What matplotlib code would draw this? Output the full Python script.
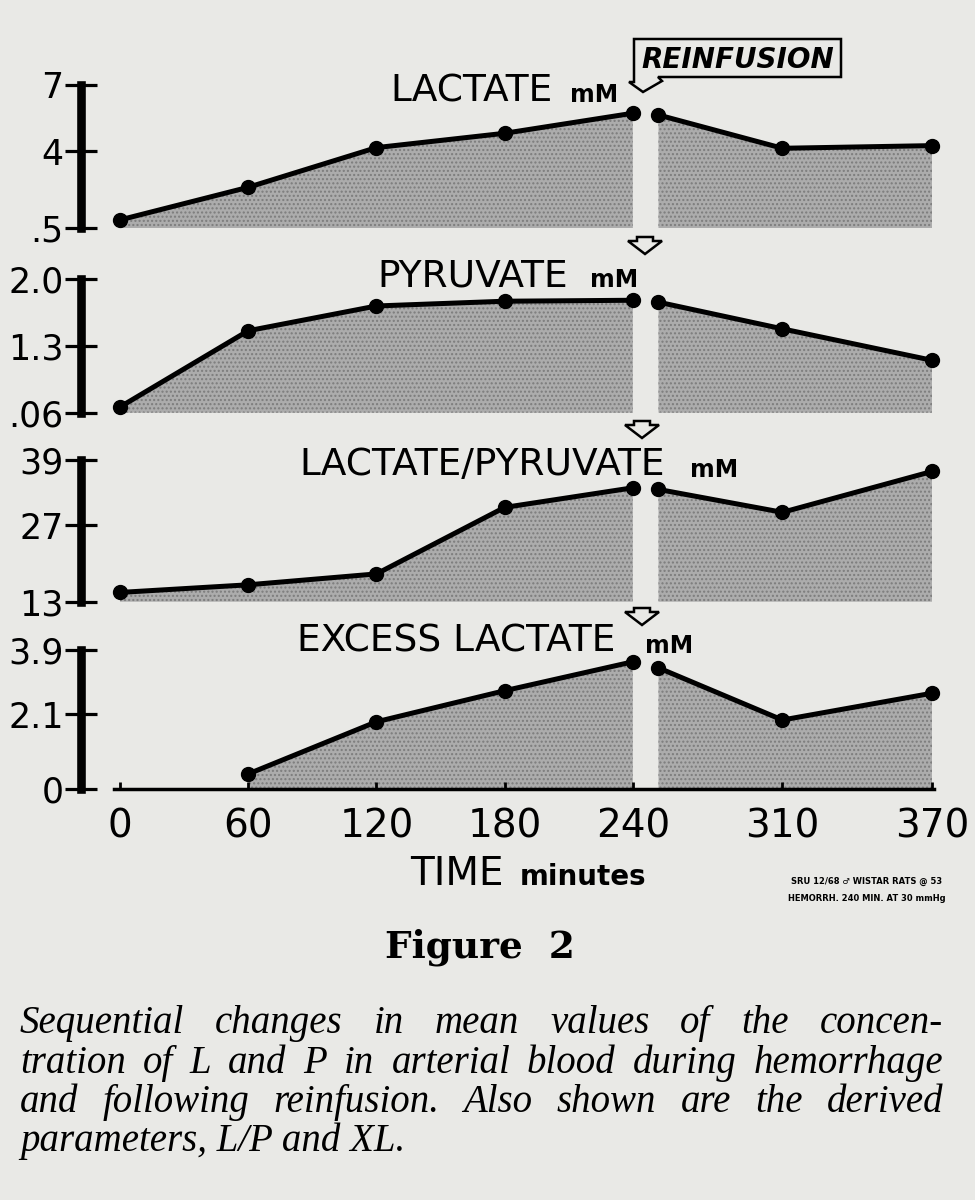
import matplotlib.pyplot as plt
from matplotlib.patches import Polygon

# time axis as drawn (the last interval of the original drawing is stretched,
# so the "370" mark sits where 380 would be on a linear scale)
tick_pos = [0, 60, 120, 180, 240, 310, 380]
tick_labels = ['0', '60', '120', '180', '240', '310', '370']

t_pre = [0, 60, 120, 180, 240]
t_post = [252, 310, 380]
t_xl_pre = [60, 120, 180, 240]

lactate_pre = [0.88, 2.36, 4.16, 4.81, 5.72]
lactate_post = [5.64, 4.13, 4.25]
pyruvate_pre = [0.66, 1.46, 1.72, 1.77, 1.78]
pyruvate_post = [1.76, 1.48, 1.15]
lp_pre = [14.7, 16.1, 18.1, 30.3, 33.9]
lp_post = [33.6, 29.4, 36.9]
xl_pre = [0.43, 1.89, 2.76, 3.57]
xl_post = [3.40, 1.94, 2.69]

lactate_ticks = [0.5, 4, 7]
lactate_ticklabels = ['.5', '4', '7']
pyruvate_ticks = [0.6, 1.3, 2.0]
pyruvate_ticklabels = ['.06', '1.3', '2.0']
lp_ticks = [13, 27, 39]
lp_ticklabels = ['13', '27', '39']
xl_ticks = [0, 2.1, 3.9]
xl_ticklabels = ['0', '2.1', '3.9']

W, H = 975, 1200
BG = '#e9e9e6'
FILL = '#acacac'

fig = plt.figure(figsize=(W / 100, H / 100), dpi=100)
fig.patch.set_facecolor(BG)


def fx(x):
    return x / W


def fy(y):
    return 1 - y / H


# pixel layout of the drawing
x_left, x_right = 81, 960
x0_px, scale = 120, (932 - 120) / 380
xlim = (-(x0_px - x_left) / scale, (x_right - x0_px) / scale)

panels = [
    dict(top=85, bot=228.3, pre=lactate_pre, post=lactate_post, tpre=t_pre,
         ticks=lactate_ticks, labels=lactate_ticklabels),
    dict(top=279.3, bot=412.7, pre=pyruvate_pre, post=pyruvate_post, tpre=t_pre,
         ticks=pyruvate_ticks, labels=pyruvate_ticklabels),
    dict(top=460, bot=601.7, pre=lp_pre, post=lp_post, tpre=t_pre,
         ticks=lp_ticks, labels=lp_ticklabels),
    dict(top=650, bot=789.3, pre=xl_pre, post=xl_post, tpre=t_xl_pre,
         ticks=xl_ticks, labels=xl_ticklabels),
]

axes = []
for p in panels:
    ax = fig.add_axes([fx(x_left), fy(p['bot']), (x_right - x_left) / W,
                       (p['bot'] - p['top']) / H])
    ax.set_facecolor('none')
    ax.set_xlim(*xlim)
    lo, hi = p['ticks'][0], p['ticks'][-1]
    ax.set_ylim(lo, hi)
    for s in ['top', 'right', 'bottom']:
        ax.spines[s].set_visible(False)
    ax.spines['left'].set_linewidth(6.2)
    ax.set_yticks(p['ticks'], p['labels'])
    ax.tick_params(axis='y', direction='inout', length=23, width=2.3, pad=1,
                   labelsize=25)
    ax.tick_params(axis='x', bottom=False, labelbottom=False)
    for t, v in [(p['tpre'], p['pre']), (t_post, p['post'])]:
        ax.fill_between(t, v, lo, facecolor=FILL, edgecolor='#7c7c7c',
                        hatch='....', linewidth=0)
        ax.plot(t, v, '-o', color='black', lw=3.6, ms=10, clip_on=False,
                solid_joinstyle='round')
    axes.append(ax)

# time axis under the last panel
ax = axes[-1]
ax.spines['bottom'].set_visible(True)
ax.spines['bottom'].set_linewidth(2.5)
ax.spines['bottom'].set_bounds(-3, 381)
ax.set_xticks(tick_pos, tick_labels)
ax.tick_params(axis='x', bottom=True, labelbottom=True, direction='in',
               length=5, width=2, pad=13, labelsize=28)

# panel titles: (main text, right end px, baseline px, mM start px, mM baseline px)
titles = [
    ('LACTATE', 553, 101.7, 570, 101.7),
    ('PYRUVATE', 568, 286.7, 590, 286.7),
    ('LACTATE/PYRUVATE', 665, 475, 690, 476.7),
    ('EXCESS LACTATE', 615, 652, 645, 653.3),
]
for name, xr, yb, xm, ym in titles:
    fig.text(fx(xr), fy(yb), name, ha='right', va='baseline', fontsize=27)
    fig.text(fx(xm), fy(ym), 'mM', ha='left', va='baseline', fontsize=17,
             fontweight='bold')

# reinfusion callout
callout = [(634, 39), (841, 39), (841, 77), (658, 77), (662, 81), (643, 92),
           (629, 82), (634, 82)]
fig.patches.append(Polygon([(fx(x), fy(y)) for x, y in callout], closed=True,
                           transform=fig.transFigure, facecolor=BG,
                           edgecolor='black', lw=1.8))
fig.text(fx(738), fy(68), 'REINFUSION', ha='center', va='baseline',
         fontsize=20, fontweight='bold', fontstyle='italic')

# small open arrows above the gaps
for cx, ty in [(645, 237), (642, 421), (642, 608)]:
    pts = [(cx - 8, ty), (cx + 8, ty), (cx + 8, ty + 4), (cx + 17, ty + 4),
           (cx, ty + 17), (cx - 17, ty + 4), (cx - 8, ty + 4)]
    fig.patches.append(Polygon([(fx(x), fy(y)) for x, y in pts], closed=True,
                               transform=fig.transFigure, facecolor=BG,
                               edgecolor='black', lw=1.8))

fig.text(fx(410), fy(885), 'TIME', ha='left', va='baseline', fontsize=28)
fig.text(fx(520), fy(885), 'minutes', ha='left', va='baseline', fontsize=20,
         fontweight='bold')

fig.text(fx(867), fy(884), 'SRU 12/68 \u2642 WISTAR RATS @ 53', ha='center',
         va='baseline', fontsize=6, fontweight='bold')
fig.text(fx(867), fy(901), 'HEMORRH. 240 MIN. AT 30 mmHg', ha='center',
         va='baseline', fontsize=6, fontweight='bold')

fig.text(fx(480), fy(958), 'Figure  2', ha='center', va='baseline',
         fontsize=27, fontweight='bold', family='DejaVu Serif')

# justified caption
caption = ['Sequential changes in mean values of the concen-',
           'tration of L and P in arterial blood during hemorrhage',
           'and following reinfusion. Also shown are the derived',
           'parameters, L/P and XL.']
baselines = [1033, 1073, 1112, 1151]
cap_left, cap_right = 20, 943
font = dict(fontsize=28, fontstyle='italic', family='Liberation Serif')
renderer = fig.canvas.get_renderer()
for i, (line, yb) in enumerate(zip(caption, baselines)):
    if i == len(caption) - 1:
        fig.text(fx(cap_left), fy(yb), line, ha='left', va='baseline', **font)
        continue
    words = line.split()
    texts = [fig.text(0, fy(yb), w, ha='left', va='baseline', **font) for w in words]
    widths = [t.get_window_extent(renderer).width for t in texts]
    gap = (cap_right - cap_left - sum(widths)) / (len(words) - 1)
    x = cap_left
    for t, w in zip(texts, widths):
        t.set_x(fx(x))
        x += w + gap

fig.savefig('out.png', dpi=100, facecolor=BG)
